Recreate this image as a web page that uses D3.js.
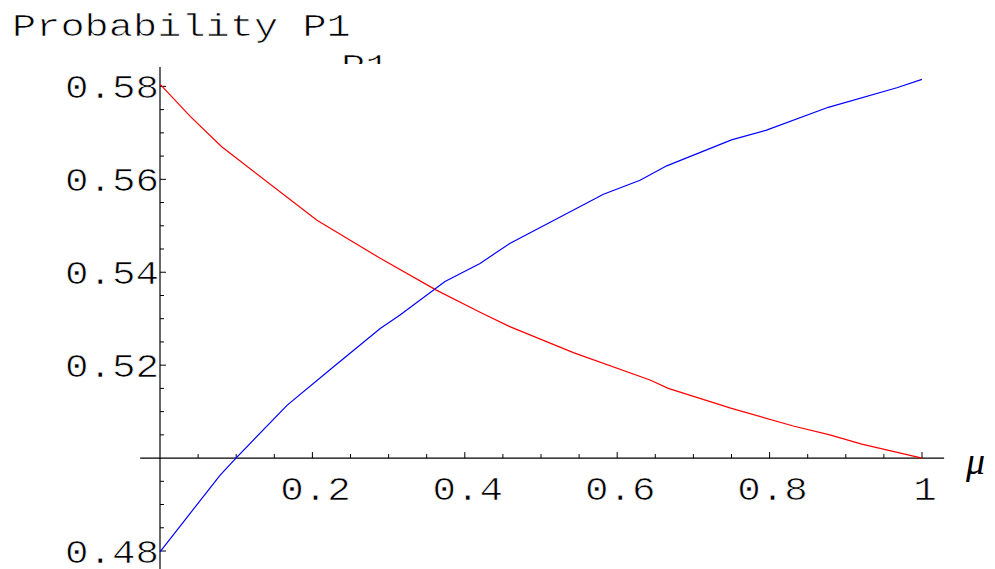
<!DOCTYPE html>
<html>
<head>
<meta charset="utf-8">
<script src="https://cdn.jsdelivr.net/npm/d3@7"></script>
<style>
  html, body { margin: 0; padding: 0; background: #fff; }
  svg { display: block; }
  .mono { stroke: #fff; stroke-width: 0.7px; paint-order: fill stroke; }
</style>
</head>
<body>
<svg id="chart" width="995" height="569"></svg>
<script>
// ---- data ----
const redMu  = [0, 0.040, 0.081, 0.206, 0.289, 0.362, 0.420, 0.459, 0.5425, 0.643, 0.667, 0.750, 0.831, 0.879, 0.921, 1];
const redP   = [0.5805, 0.5735, 0.5670, 0.5512, 0.5430, 0.5362, 0.5314, 0.5283, 0.5227, 0.5168, 0.5150, 0.5107, 0.5069, 0.5050, 0.5030, 0.5000];
const blueMu = [0, 0.0787, 0.0997, 0.167, 0.223, 0.249, 0.289, 0.315, 0.374, 0.420, 0.459, 0.582, 0.630, 0.665, 0.750, 0.796, 0.877, 0.967, 1];
const blueP  = [0.4798, 0.4963, 0.5000, 0.5114, 0.5190, 0.5225, 0.5279, 0.5308, 0.5380, 0.5419, 0.5462, 0.5568, 0.5598, 0.5629, 0.5685, 0.5706, 0.5755, 0.5797, 0.5815];
const xTickValues = [0.2, 0.4, 0.6, 0.8, 1];
const xTickLabels = ["0.2", "0.4", "0.6", "0.8", "1"];
const yTickValues = [0.48, 0.52, 0.54, 0.56, 0.58];
const yTickLabels = ["0.48", "0.52", "0.54", "0.56", "0.58"];
const xMinorTicks = d3.range(1, 21).map(i => i * 0.05);
const yMinorTicks = d3.range(0, 21).map(i => +(0.48 + i * 0.005).toFixed(3)).filter(v => Math.abs(v - 0.5) > 1e-9);
const titleText = "Probability P1";
const axisLabelY = "P1";
const axisLabelX = "μ";

// ---- layout ----
const svg = d3.select("#chart");
const x = d3.scaleLinear().domain([0, 1]).range([160, 922]);
const y = d3.scaleLinear().domain([0.48, 0.58]).range([551, 86.4]);
const x0 = x(0), yAxisPos = y(0.5);
const mono = "'Courier New', 'Liberation Mono', monospace";
const adv = 23.5;

// title
svg.append("text").attr("class", "mono")
  .attr("x", 12).attr("y", 36)
  .attr("font-family", mono).attr("font-size", 31)
  .attr("textLength", 14 * 24.2).attr("lengthAdjust", "spacingAndGlyphs")
  .attr("fill", "#000").text(titleText);

// partially hidden axis label "P1"
svg.append("clipPath").attr("id", "pclip")
  .append("rect").attr("x", 300).attr("y", 50).attr("width", 120).attr("height", 14);
svg.append("text").attr("class", "mono")
  .attr("clip-path", "url(#pclip)")
  .attr("x", 341).attr("y", 76)
  .attr("font-family", mono).attr("font-size", 31)
  .attr("textLength", 2 * 24.2).attr("lengthAdjust", "spacingAndGlyphs")
  .attr("fill", "#000").text(axisLabelY);

// axes lines
svg.append("line")
  .attr("x1", x(-0.026)).attr("x2", x(1.029))
  .attr("y1", yAxisPos).attr("y2", yAxisPos)
  .attr("stroke", "#000").attr("stroke-width", 1.2);
svg.append("line")
  .attr("x1", x0).attr("x2", x0)
  .attr("y1", 67).attr("y2", 569)
  .attr("stroke", "#000").attr("stroke-width", 1.2);

// x ticks (pointing up)
const xMajorSet = new Set(xTickValues.map(v => v.toFixed(2)));
svg.append("g").selectAll("line").data(xMinorTicks).join("line")
  .attr("x1", d => x(d)).attr("x2", d => x(d))
  .attr("y1", yAxisPos)
  .attr("y2", d => yAxisPos - (xMajorSet.has(d.toFixed(2)) ? 6 : 4))
  .attr("stroke", "#000").attr("stroke-width", 1);

// y ticks (pointing right)
const yMajorSet = new Set(yTickValues.map(v => v.toFixed(3)));
svg.append("g").selectAll("line").data(yMinorTicks).join("line")
  .attr("x1", x0)
  .attr("x2", d => x0 + (yMajorSet.has(d.toFixed(3)) ? 6 : 4))
  .attr("y1", d => y(d)).attr("y2", d => y(d))
  .attr("stroke", "#000").attr("stroke-width", 1);

// x tick labels
svg.append("g").selectAll("text").data(xTickValues).join("text").attr("class", "mono")
  .attr("x", (d, i) => x(d) + 3 - xTickLabels[i].length * adv / 2)
  .attr("y", 500)
  .attr("font-family", mono).attr("font-size", 34)
  .attr("textLength", (d, i) => xTickLabels[i].length * adv)
  .attr("lengthAdjust", "spacingAndGlyphs")
  .attr("fill", "#000")
  .text((d, i) => xTickLabels[i]);

// y tick labels
svg.append("g").selectAll("text").data(yTickValues).join("text").attr("class", "mono")
  .attr("x", (d, i) => 159 - yTickLabels[i].length * adv)
  .attr("y", d => y(d) + 11.5)
  .attr("font-family", mono).attr("font-size", 34)
  .attr("textLength", (d, i) => yTickLabels[i].length * adv)
  .attr("lengthAdjust", "spacingAndGlyphs")
  .attr("fill", "#000")
  .text((d, i) => yTickLabels[i]);

// x axis label
svg.append("text")
  .attr("x", 966).attr("y", 474)
  .attr("font-family", "'Liberation Serif', 'Times New Roman', serif")
  .attr("font-style", "italic").attr("font-size", 38)
  .attr("fill", "#000").text(axisLabelX);

// curves
const line = d3.line().x(d => x(d[0])).y(d => y(d[1]));
svg.append("path")
  .datum(redMu.map((m, i) => [m, redP[i]]))
  .attr("d", line).attr("fill", "none")
  .attr("stroke", "#ff0000").attr("stroke-width", 1.2);
svg.append("path")
  .datum(blueMu.map((m, i) => [m, blueP[i]]))
  .attr("d", line).attr("fill", "none")
  .attr("stroke", "#0000ff").attr("stroke-width", 1.2);
</script>
</body>
</html>
